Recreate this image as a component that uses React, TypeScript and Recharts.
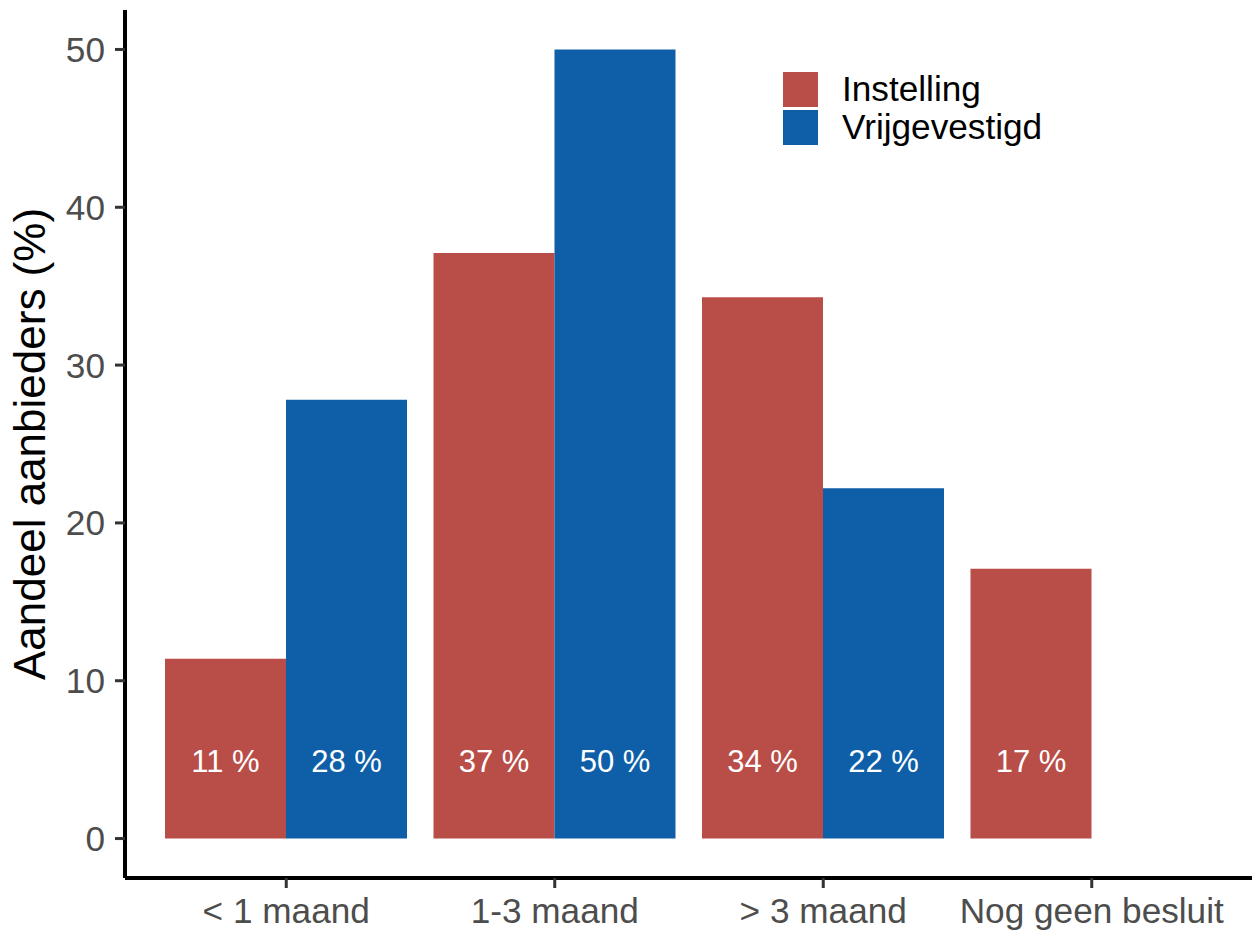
import { Bar, BarChart, LabelList, Legend, XAxis, YAxis } from "recharts";

const CATEGORIES = ["< 1 maand", "1-3 maand", "> 3 maand", "Nog geen besluit"];
const INSTELLING = [11.4, 37.1, 34.3, 17.1];
const VRIJGEVESTIGD: (number | null)[] = [27.8, 50, 22.2, null];
const Y_TICKS = [0, 10, 20, 30, 40, 50];
// bar labels sit at this y value, like geom_text(y = 5)
const LABEL_AT = 5;

const RED = "#B94D48";
const BLUE = "#0E5FA8";
const FONT = '"Liberation Sans", Arial, sans-serif';
const TICK_GREY = "#4D4D4D";

const rows = CATEGORIES.map((cat, i) => ({
  cat,
  instelling: INSTELLING[i],
  vrijgevestigd: VRIJGEVESTIGD[i],
}));

function PctLabel(props: any) {
  const { x, y, width, height, value } = props;
  if (value == null || !value) return null;
  const perUnit = Number(height) / Number(value);
  const cy = Number(y) + Number(height) - perUnit * LABEL_AT;
  return (
    <text
      x={Number(x) + Number(width) / 2}
      y={cy}
      dy={2}
      textAnchor="middle"
      dominantBaseline="central"
      fill="#ffffff"
      fontSize={31}
      fontFamily={FONT}
    >
      {Math.round(Number(value))} %
    </text>
  );
}

function AxisTitle(props: any) {
  const vb = props.viewBox ?? { x: 0, y: 0, width: 0, height: 0 };
  const cx = vb.x + 29;
  const cy = vb.y + vb.height / 2;
  return (
    <text
      transform={`translate(${cx},${cy}) rotate(-90)`}
      textAnchor="middle"
      dominantBaseline="central"
      fill="#000000"
      fontSize={44}
      fontFamily={FONT}
    >
      Aandeel aanbieders (%)
    </text>
  );
}

function KeyLegend({ payload }: any) {
  const items = (payload ?? []) as { value: string; color: string }[];
  return (
    <div style={{ fontFamily: FONT, fontSize: 35.2, color: "#000" }}>
      {items.map((it) => (
        <div
          key={it.value}
          style={{ display: "flex", alignItems: "center", height: 38, whiteSpace: "nowrap" }}
        >
          <div style={{ width: 35, height: 35, background: it.color, marginRight: 24 }} />
          <span>{it.value}</span>
        </div>
      ))}
    </div>
  );
}

export default function App() {
  const tickStyle = { fill: TICK_GREY, fontSize: 35.2, fontFamily: FONT };
  const tickLine = { stroke: "#333333", strokeWidth: 3 };
  const axisLine = { stroke: "#000000", strokeWidth: 4 };
  return (
    <div style={{ position: "absolute", left: 0, top: 0, background: "#fff" }}>
      <BarChart
        width={1252}
        height={931}
        data={rows}
        margin={{ top: 10, right: 0, bottom: 0, left: 0 }}
        barSize={121}
        barGap={0}
      >
        <XAxis
          dataKey="cat"
          height={53}
          interval={0}
          padding={{ left: 27, right: 26 }}
          tick={tickStyle}
          tickSize={10}
          tickMargin={10}
          tickLine={tickLine}
          axisLine={axisLine}
        />
        <YAxis
          type="number"
          width={125}
          domain={[-2.5, 52.5]}
          allowDataOverflow
          ticks={Y_TICKS}
          interval={0}
          tick={tickStyle}
          tickSize={10}
          tickMargin={10}
          tickLine={tickLine}
          axisLine={axisLine}
          label={{ content: <AxisTitle /> }}
        />
        <Legend
          layout="vertical"
          align="center"
          verticalAlign="middle"
          wrapperStyle={{ left: 783, top: 70, width: "auto", height: "auto" }}
          content={<KeyLegend />}
        />
        <Bar dataKey="instelling" name="Instelling" fill={RED} isAnimationActive={false}>
          <LabelList dataKey="instelling" content={<PctLabel />} />
        </Bar>
        <Bar dataKey="vrijgevestigd" name="Vrijgevestigd" fill={BLUE} isAnimationActive={false}>
          <LabelList dataKey="vrijgevestigd" content={<PctLabel />} />
        </Bar>
      </BarChart>
    </div>
  );
}
